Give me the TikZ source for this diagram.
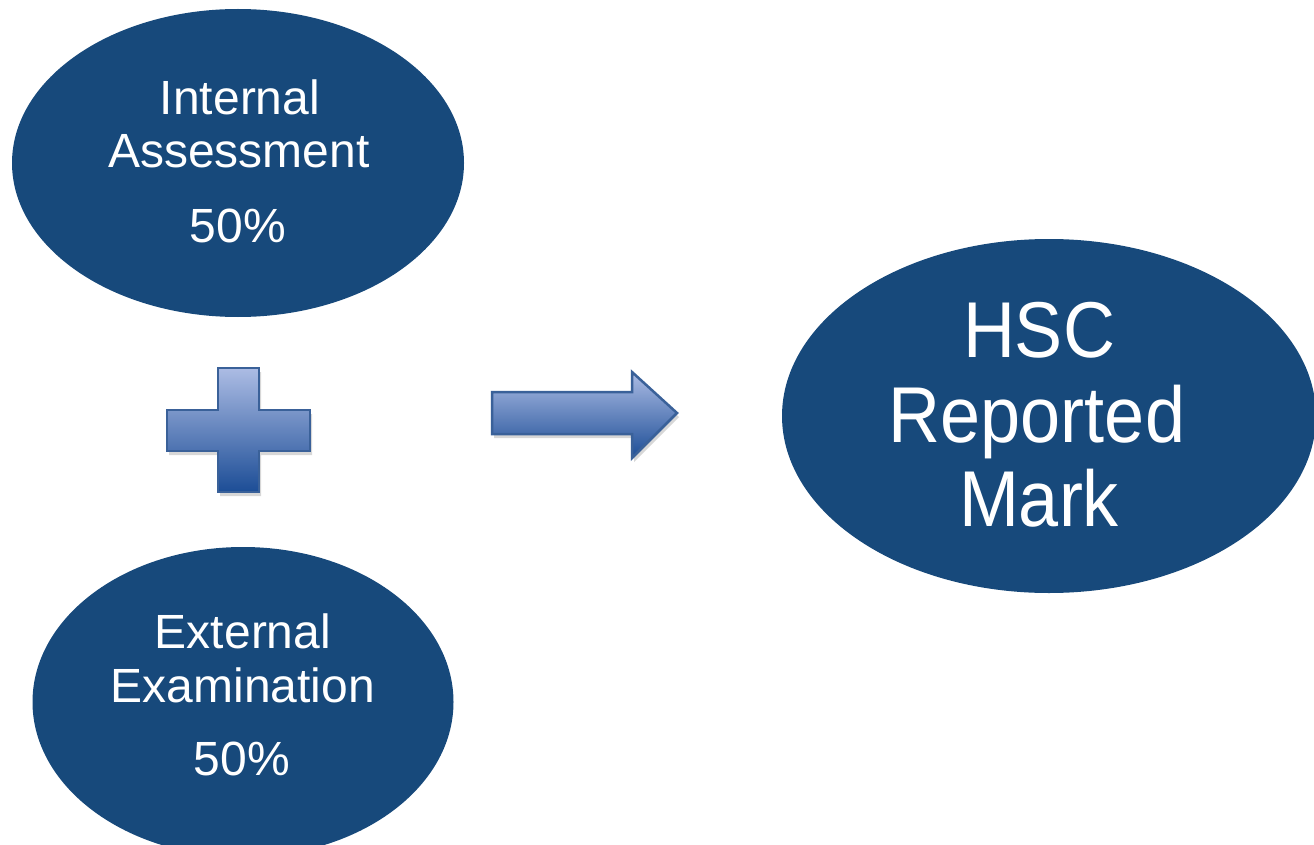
\documentclass[tikz,border=0pt]{standalone}
\usepackage{fontspec}
\setmainfont{Liberation Sans}
\usetikzlibrary{shapes.geometric}
\definecolor{navy}{RGB}{23,73,123}
\definecolor{shtop}{RGB}{172,188,228}
\definecolor{shbot}{RGB}{28,77,150}
\definecolor{edgeblue}{RGB}{58,97,153}
\definecolor{shadowgray}{RGB}{215,215,215}
\begin{document}
\begin{tikzpicture}[x=1pt,y=-1pt,
  blob/.style={ellipse, fill=navy, draw=none, inner sep=0pt},
  lbl/.style={text=white, font=\fontsize{48}{48}\selectfont, anchor=base, inner sep=0pt},
  big/.style={text=white, font=\fontsize{72}{72}\selectfont, anchor=base, inner sep=0pt},
  glyph/.style={draw=edgeblue, line width=2.5pt, top color=shtop, bottom color=shbot, line join=miter},
  glyphshadow/.style={fill=shadowgray, draw=none}]
\useasboundingbox (0,0) rectangle (1314,845);
\clip (0,0) rectangle (1314,845);

% ellipses
\node[blob, minimum width=452pt, minimum height=308pt] (ia) at (238,163) {};
\node[blob, minimum width=421pt, minimum height=310pt] (ee) at (243,702) {};
\node[blob, minimum width=534pt, minimum height=354pt] (hsc) at (1049,416) {};

% texts
\node[lbl] (ia1) at (240,115) {Internal};
\node[lbl] (ia2) at (239,168) {Assessment};
\node[lbl] (ia3) at (238,242) {50\%};

\node[lbl] (ee1) at (243,648) {External};
\node[lbl] (ee2) at (243,702) {Examination};
\node[lbl] (ee3) at (242,775) {50\%};

\node[big] (h1) at (1039,357) {\scalebox{1}[1.1]{HSC}};
\node[big] (h2) at (1037,442) {\scalebox{1}[1.1]{Reported}};
\node[big] (h3) at (1039,526) {\scalebox{1}[1.1]{Mark}};

% plus sign
\begin{scope}[shift={(2,4)}]
\fill[glyphshadow] (167,410) -- (218,410) -- (218,368) -- (259,368) -- (259,410) -- (310,410)
  -- (310,451) -- (259,451) -- (259,492) -- (218,492) -- (218,451) -- (167,451) -- cycle;
\end{scope}
\path[glyph] (167,410) -- (218,410) -- (218,368) -- (259,368) -- (259,410) -- (310,410)
  -- (310,451) -- (259,451) -- (259,492) -- (218,492) -- (218,451) -- (167,451) -- cycle;

% block arrow
\begin{scope}[shift={(2,4)}]
\fill[glyphshadow] (492,392) -- (632,392) -- (632,372) -- (677,413) -- (632,458) -- (632,434) -- (492,434) -- cycle;
\end{scope}
\path[glyph] (492,392) -- (632,392) -- (632,372) -- (677,413) -- (632,458) -- (632,434) -- (492,434) -- cycle;
\end{tikzpicture}
\end{document}
